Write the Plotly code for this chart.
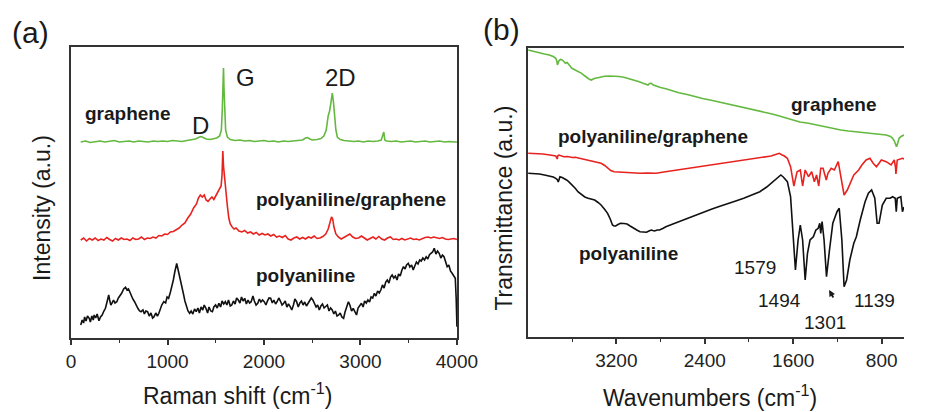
import plotly.graph_objects as go

# ---------------- Panel (a): Raman spectra (x: Raman shift cm-1, y: arbitrary units) -------------
raman_graphene = [(100,196),(150,197),(200,195.5),(250,196.5),(300,197),(350,196),(400,196.5),(450,197.5),
    (500,196),(550,196.5),(600,197),(650,196),(700,197),(750,196.5),(800,196),(850,197),(900,196.5),
    (950,197),(1000,196.5),(1050,197.5),(1100,197),(1150,196.5),(1200,197.5),(1250,198),(1290,199),
    (1320,200.5),(1345,201.5),(1370,200.5),(1400,199),(1440,198.5),(1480,199),(1510,200),(1540,202),
    (1558,208),(1568,230),(1575,258),(1580,270),(1585,250),(1592,225),(1602,208),(1620,201),(1650,198.5),
    (1700,197.5),(1750,198),(1800,197),(1850,197.5),(1900,196.5),(1950,197),(2000,197.5),(2050,196.5),
    (2100,197),(2150,196),(2200,197),(2250,196.5),(2300,197),(2350,197.5),(2400,198),(2430,200),
    (2450,200.5),(2475,199),(2500,198),(2550,198.5),(2590,199.5),(2620,202),(2645,208),(2665,222),
    (2680,227),(2695,236),(2708,245),(2720,236),(2732,222),(2745,208),(2760,201),(2790,198.5),
    (2830,197.5),(2880,197),(2930,196.5),(2980,197),(3030,196),(3080,197),(3130,196.5),(3180,197),
    (3215,198),(3232,203),(3242,206),(3252,198),(3270,197),(3320,196.5),(3370,197),(3420,196),
    (3470,196.5),(3520,197),(3570,196),(3620,196.5),(3670,197),(3720,196),(3770,196.5),(3820,197),
    (3870,196),(3920,196.5),(3970,196),(4000,196)]

raman_composite = [(100,98),(130,100),(160,97),(190,99.5),(220,98),(250,100),(280,97.5),(310,99),(340,98),
    (370,100.5),(400,98.5),(430,97),(460,99.5),(490,98),(520,100),(550,98.5),(580,99),(610,97.5),(640,100),
    (670,98.5),(700,99),(730,101),(760,98.5),(790,100),(820,99.5),(850,101),(880,100),(910,102.5),(940,102),
    (970,104),(1000,103.5),(1030,106),(1060,106.5),(1090,108),(1120,110),(1150,113),(1180,115),(1210,120),
    (1240,124),(1270,130),(1300,134),(1320,140),(1340,143),(1360,141),(1380,143),(1400,138),(1420,136.5),
    (1440,139),(1460,141),(1480,138.5),(1500,142),(1520,145),(1540,148),(1555,152),(1565,163),(1573,187),
    (1580,172),(1590,160),(1605,148),(1620,132),(1635,120),(1650,114),(1670,111),(1690,109),(1710,110),
    (1740,107),(1770,106),(1800,107.5),(1830,105),(1860,106),(1890,104),(1920,105.5),(1950,103),(1980,104.5),
    (2010,103),(2040,104),(2070,102),(2100,103.5),(2130,101),(2160,102),(2190,100.5),(2220,102.5),(2250,99),
    (2280,98),(2310,100),(2340,101),(2370,99),(2400,100.5),(2430,99),(2460,101),(2490,100),(2520,102),
    (2550,99.5),(2580,100),(2610,101.5),(2640,104),(2665,109),(2685,115),(2700,121),(2712,119),(2725,111),
    (2745,104),(2770,101),(2800,99),(2830,100.5),(2860,102),(2890,104),(2920,101),(2950,99.5),(2980,100),
    (3010,102),(3040,100),(3070,98),(3100,99.5),(3130,101),(3160,99),(3190,101.5),(3220,99),(3250,98),
    (3280,100),(3310,101),(3340,98.5),(3370,99),(3400,98),(3430,99.5),(3460,98),(3490,99),(3520,100),
    (3550,98.5),(3580,99),(3610,98),(3640,99.5),(3670,100.5),(3700,101),(3730,100),(3760,101),(3790,100),
    (3820,99.5),(3850,100.5),(3880,99),(3910,98.5),(3940,99),(3970,99.5),(4000,98.5)]

raman_pani = [(100,13),(115,18),(130,15),(140,21),(155,17),(170,22),(188,19.7),(200,16),(215,22),(230,18),
    (239,23),(255,20),(270,24),(289,17.3),(305,21),(322,23),(340,27),(356,29.7),(370,35),(380,40),(390,43),
    (400,38),(412,33),(423,34.7),(440,38),(455,35),(474,36.3),(490,40),(505,42),(524,44.7),(545,49),
    (564,50.7),(580,48),(595,49),(608,46.3),(625,42),(640,39),(658,36.3),(675,32),(692,29.7),(710,27),
    (725,26.3),(745,28),(760,24),(775,27),(793,26.3),(810,22),(828,25),(845,20),(860,21.3),(878,25),
    (895,22),(910,24.7),(925,30),(940,33),(961,36.3),(980,35),(995,41),(1011,39.7),(1030,46),(1045,51.3),
    (1060,58),(1075,66),(1095,74.7),(1110,68),(1125,62),(1146,54.7),(1165,44),(1180,37),(1196,31.3),
    (1212,27),(1229,24.7),(1245,27),(1262,24),(1280,29),(1297,26.3),(1315,30),(1330,25),(1348,31),
    (1365,28),(1380,33),(1398,29.7),(1415,25),(1430,31),(1448,27),(1465,26.3),(1480,31),(1498,33),
    (1515,30),(1532,34.7),(1550,31),(1565,37),(1582,34),(1599,36.3),(1615,33),(1632,38),(1650,32),
    (1666,33),(1683,37),(1700,34),(1716,40),(1733,38),(1750,35),(1767,41),(1783,37),(1800,39.7),
    (1817,34),(1834,38),(1850,35),(1867,36.3),(1885,42),(1900,37),(1918,33),(1935,34.7),(1952,39),
    (1968,36),(1985,38),(2002,36.3),(2020,33),(2035,37),(2052,40),(2069,39.7),(2086,35),(2102,38),
    (2120,34),(2136,36.3),(2153,40),(2170,37),(2187,33),(2204,34.7),(2220,37),(2237,31),(2254,34),
    (2271,31.3),(2288,28),(2305,33),(2320,39),(2338,36.3),(2355,31),(2372,35),(2388,37),(2405,33),
    (2422,36),(2440,32),(2456,35),(2472,37),(2490,40),(2506,38),(2523,34),(2540,31),(2556,33),(2573,28),
    (2590,32),(2606,34),(2623,30),(2640,31.3),(2657,33),(2674,27),(2690,30),(2707,28),(2724,24),(2740,27),
    (2757,22),(2774,23),(2790,25),(2807,21),(2825,19.7),(2840,26),(2858,31),(2875,36.3),(2890,33),
    (2908,27),(2925,29.7),(2942,26),(2959,23),(2975,30),(2993,33),(3010,34.7),(3027,31),(3043,37),
    (3060,35),(3077,38),(3094,36),(3110,41),(3127,40),(3144,44.7),(3160,42),(3178,47),(3195,45),
    (3211,48),(3228,53),(3245,50),(3262,56),(3278,58),(3295,55),(3312,61),(3328,63),(3345,60),(3362,62),
    (3379,58),(3395,64),(3412,62),(3430,68),(3446,71.3),(3462,69),(3478,73),(3496,74.7),(3512,71),
    (3530,73),(3547,68),(3563,72),(3580,76),(3597,74),(3614,78),(3630,77),(3647,80),(3664,78),
    (3681,81.3),(3698,79),(3714,83),(3731,84.7),(3748,86),(3765,89.7),(3782,84),(3799,87),(3816,84.7),
    (3833,80),(3850,83),(3866,81.3),(3883,76),(3899,71.3),(3916,73),(3933,67),(3950,64.7),(3966,62),
    (3983,59.7),(3992,40),(4000,11.3)]

# ---------------- Panel (b): FTIR spectra (x: wavenumber cm-1, y: arbitrary units) ---------------
ftir_graphene = [(3997,287),(3950,285.5),(3895,284.3),(3850,283),(3807,282),(3770,280.5),(3748,278.7),
    (3738,276),(3733,272),(3726,275.5),(3719,276.3),(3705,277.5),(3690,277),(3675,275.5),(3660,273.7),
    (3645,274.5),(3631,272),(3615,270.5),(3602,268.7),(3580,267.5),(3558,266.3),(3536,265),(3514,263.7),
    (3490,261.5),(3470,259.7),(3448,258),(3426,257),(3400,258.5),(3367,259.3),(3340,260),(3308,260.7),
    (3260,261),(3220,261),(3175,260.5),(3132,259.7),(3090,258.5),(3044,257),(3000,255.5),(2957,253.7),
    (2925,252.5),(2913,252),(2900,253.5),(2884,253.7),(2865,252),(2840,251),(2800,249.5),(2752,248.3),
    (2700,246.5),(2635,244.3),(2560,242.5),(2488,240.3),(2420,238.5),(2341,236.7),(2270,235),(2195,233.3),
    (2120,231.5),(2048,229.7),(1975,228),(1902,226),(1830,224),(1756,222),(1710,220.5),(1668,218.7),
    (1640,217.5),(1624,217),(1600,216.5),(1540,215),(1462,213.7),(1390,212),(1316,210.3),(1240,208.5),
    (1169,207),(1100,206),(1022,205),(950,204.2),(877,203.7),(820,203),(759,202),(720,200.5),(701,198.7),
    (685,196),(672,191),(666,190.3),(660,192),(650,197),(642,198.7),(625,200.5),(598,202)]

ftir_composite = [(3997,183.7),(3940,183.5),(3865,183),(3800,182),(3760,181.5),(3748,181),(3735,178),
    (3728,181.5),(3719,182),(3700,181.5),(3675,180.3),(3640,180.5),(3600,179.5),(3572,179.7),(3520,178.5),
    (3455,177),(3400,175.5),(3338,173.7),(3305,171.5),(3279,168.7),(3250,166.5),(3220,165.3),(3180,165),
    (3132,164.7),(3060,164),(2986,163.7),(2920,164),(2840,163.7),(2770,165),(2693,166.3),(2620,167),
    (2547,168.3),(2470,169.5),(2400,171),(2330,172.5),(2253,173.7),(2180,175),(2107,176.3),(2030,177.5),
    (1960,178.7),(1900,179.5),(1844,180.3),(1800,181),(1760,182.5),(1726,183.7),(1700,182),(1680,181),
    (1653,178.7),(1624,170.3),(1594,151),(1565,165.3),(1536,167),(1515,151),(1492,167),(1462,160.3),
    (1433,165.3),(1409,155.3),(1389,162),(1369,151),(1351,168.7),(1330,168.7),(1301,157),(1286,163.7),
    (1257,168.7),(1228,167),(1193,175.3),(1169,160.3),(1140,142),(1111,147),(1081,155.3),(1052,162),
    (1008,167),(979,172),(941,177),(906,178.7),(877,173.7),(847,170.3),(824,173.7),(803,177),(759,175.3),
    (715,172),(686,177),(675,170),(671,163),(667,172),(659,177),(612,178.7),(598,178)]

ftir_pani = [(3997,163.7),(3940,163.5),(3895,163),(3850,162),(3807,161.3),(3770,160),(3748,158.7),
    (3735,157.5),(3725,155),(3716,159.5),(3710,160.3),(3690,159.5),(3675,158.7),(3650,157),(3631,155.3),
    (3600,152),(3572,148.7),(3545,145),(3514,142),(3485,140),(3455,138.7),(3425,137.5),(3396,137),
    (3365,134.5),(3338,132),(3308,128),(3279,123.7),(3255,118),(3235,112),(3220,111),(3206,111),
    (3185,112.5),(3162,113.7),(3130,113.5),(3103,113),(3075,111),(3044,108.7),(3015,107),(2986,105.3),
    (2955,104.8),(2927,104.7),(2905,106),(2884,107),(2870,106.5),(2854,106),(2830,107),(2810,107),
    (2780,108.5),(2752,110.3),(2700,112.5),(2635,115.3),(2560,118.5),(2488,122),(2415,125),(2341,127.7),
    (2270,130.5),(2195,133),(2120,136),(2048,138.7),(1975,142),(1902,145.3),(1840,150),(1785,155.3),
    (1750,158.5),(1726,161),(1712,162),(1690,160),(1670,158),(1653,155.3),(1624,140.3),(1603,103.7),
    (1580,67),(1556,97),(1536,112),(1515,97),(1492,57),(1471,83.7),(1448,97),(1418,100.3),(1395,107),
    (1374,108.7),(1360,113.7),(1351,103.7),(1339,115.3),(1321,97),(1299,60.3),(1272,87),(1242,113.7),
    (1204,125.3),(1184,128.7),(1160,97),(1140,50.3),(1117,57),(1088,77),(1052,93.7),(1037,97),
    (1029,100.3),(994,117),(950,135.3),(920,143.7),(891,147),(862,138.7),(841,113.7),(824,113.7),
    (794,132),(759,138.7),(724,138.7),(701,140.3),(677,138.7),(668,125.3),(659,138.7),(627,140.3),
    (612,125.3),(598,130)]

raman_ticks = [0, 1000, 2000, 3000, 4000]
ftir_ticks = [3200, 2400, 1600, 800]
ftir_minor = [3600, 2800, 2000, 1200]

GREEN = "#63b93f"
RED = "#e8231f"
BLACK = "#111111"
AX = "#333333"
FONT = "Liberation Sans, Arial, sans-serif"

fig = go.Figure()

def add(pairs, color, xa, ya):
    fig.add_trace(go.Scatter(x=[p[0] for p in pairs], y=[p[1] for p in pairs], mode="lines",
                             line=dict(color=color, width=1.6), xaxis=xa, yaxis=ya,
                             showlegend=False, hoverinfo="skip"))

add(raman_graphene, GREEN, "x", "y")
add(raman_composite, RED, "x", "y")
add(raman_pani, BLACK, "x", "y")
add(ftir_graphene, GREEN, "x2", "y2")
add(ftir_composite, RED, "x2", "y2")
add(ftir_pani, BLACK, "x2", "y2")

W, H = 925, 412
common_x = dict(ticks="outside", ticklen=5, tickwidth=1.5, tickcolor=AX, showline=True, linecolor=AX,
                linewidth=2, showgrid=False, zeroline=False, tickfont=dict(size=19, color="#222", family=FONT))
common_y = dict(showticklabels=False, ticks="", showline=True, linecolor=AX, linewidth=2,
                showgrid=False, zeroline=False)

fig.update_layout(
    width=W, height=H, margin=dict(l=0, r=0, t=0, b=0), autosize=False,
    paper_bgcolor="white", plot_bgcolor="white", font=dict(family=FONT, color="#222"),
    xaxis=dict(domain=[68 / W, 465 / W], range=[0, 4000], tickmode="array", tickvals=raman_ticks,
               minor=dict(dtick=500, tick0=0, ticks="outside", ticklen=3, tickwidth=1.2, tickcolor=AX),
               mirror=True, anchor="y", **common_x),
    yaxis=dict(domain=[1 - 338 / H, 1 - 47 / H], range=[0, 291], mirror=True, anchor="x", **common_y),
    xaxis2=dict(domain=[538 / W, 1.0], range=[4000, 598], tickmode="array", tickvals=ftir_ticks,
                minor=dict(tickmode="array", tickvals=ftir_minor, ticks="outside", ticklen=3,
                           tickwidth=1.2, tickcolor=AX),
                mirror=True, anchor="y2", **common_x),
    yaxis2=dict(domain=[1 - 337 / H, 1 - 48 / H], range=[0, 289], mirror=False, anchor="x2", **common_y),
)

def note(text, x, y, xref, yref, size, bold=False, **kw):
    t = f"<b>{text}</b>" if bold else text
    fig.add_annotation(text=t, x=x, y=y, xref=xref, yref=yref, showarrow=False,
                       font=dict(size=size, color="#1a1a1a", family=FONT),
                       xanchor="center", yanchor="middle", **kw)

# panel (a) labels
note("graphene", 589, 225, "x", "y", 19, bold=True)
note("D", 1340, 213, "x", "y", 24)
note("G", 1804, 261, "x", "y", 24)
note("2D", 2791, 261, "x", "y", 24)
note("polyaniline/graphene", 2902, 139, "x", "y", 19, bold=True)
note("polyaniline", 2428, 63, "x", "y", 19, bold=True)

# panel (b) labels
note("graphene", 1231, 232, "x2", "y2", 19, bold=True)
note("polyaniline/graphene", 2866, 200, "x2", "y2", 19, bold=True)
note("polyaniline", 3086, 83, "x2", "y2", 19, bold=True)
note("1579", 1943, 70, "x2", "y2", 19)
note("1494", 1723, 37, "x2", "y2", 19)
note("1301", 1310, 15, "x2", "y2", 19)
note("1139", 862, 37, "x2", "y2", 19)
fig.add_annotation(text="", x=1275, y=47, xref="x2", yref="y2", showarrow=True, ax=5, ay=9,
                   arrowhead=2, arrowsize=0.7, arrowwidth=1.8, arrowcolor="#1a1a1a")

# panel letters and axis titles (paper coordinates)
note("(a)", 26 / W, 1 - 33 / H, "paper", "paper", 30)
note("(b)", 511 / W, 1 - 30 / H, "paper", "paper", 30)
note("Raman shift (cm<sup>-1</sup>)", 239 / W, 1 - 394 / H, "paper", "paper", 23)
note("Wavenumbers (cm<sup>-1</sup>)", 725 / W, 1 - 396 / H, "paper", "paper", 23)
note("Intensity (a.u.)", 38 / W, 1 - 208 / H, "paper", "paper", 23, textangle=-90)
note("Transmittance (a.u.)", 513 / W, 1 - 208 / H, "paper", "paper", 23, textangle=-90)

fig.write_html("out.html")
